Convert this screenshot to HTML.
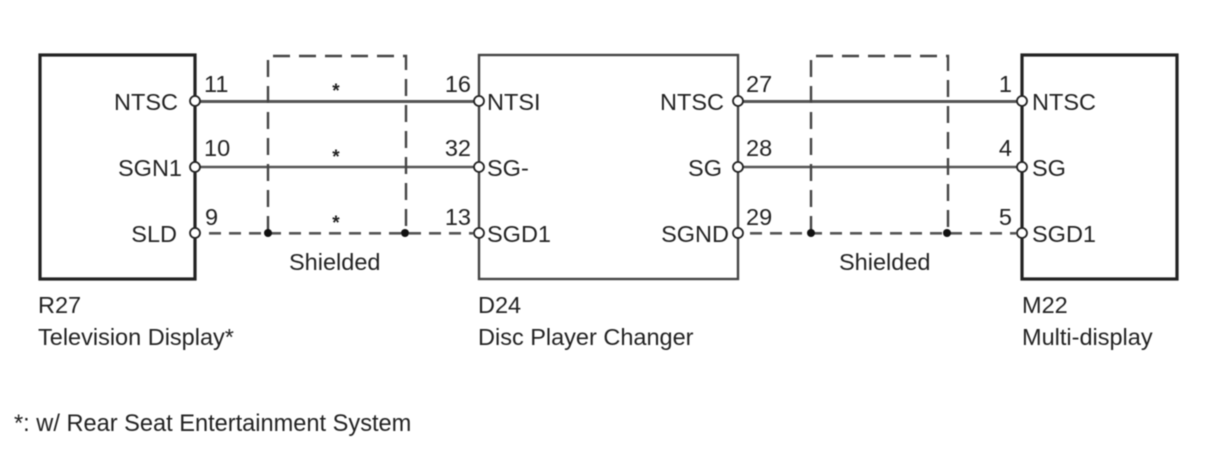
<!DOCTYPE html>
<html><head><meta charset="utf-8">
<style>
html,body{margin:0;padding:0;background:#fff;width:1210px;height:474px;overflow:hidden}
svg{display:block;filter:blur(0.45px)}
text{font-family:"Liberation Sans",sans-serif;font-size:23.5px;fill:#222}
text.f{font-size:23.6px}
text.s{font-size:19px;fill:#222;font-weight:bold}
</style></head><body>
<svg width="1210" height="474" viewBox="0 0 1210 474" xmlns="http://www.w3.org/2000/svg">
<g fill="none" stroke="#222">
<rect x="40" y="55" width="155" height="224" stroke-width="3.2"/>
<rect x="1022" y="55" width="155" height="224" stroke-width="3.2"/>
<rect x="479" y="55" width="259" height="224" stroke-width="2.4" stroke="#444"/>
</g>
<g fill="none" stroke="#555" stroke-width="3">
<path d="M195 101.5H479M738 101.5H1022"/>
</g>
<g fill="none" stroke="#555" stroke-width="2.4">
<path d="M195 167H479M738 167H1022"/>
</g>
<g fill="none" stroke="#444" stroke-width="2.4" stroke-dasharray="17 9">
<path d="M268 233V56H406V233"/>
<path d="M811 233V56H948V233"/>
</g>
<g fill="none" stroke="#555" stroke-width="2.6" stroke-dasharray="12 8">
<path d="M209 233.3H473"/>
<path d="M750 233.3H1016"/>
</g>
<g fill="#111">
<circle cx="268" cy="233" r="4"/><circle cx="405" cy="233" r="4"/>
<circle cx="811" cy="233" r="4"/><circle cx="947" cy="233" r="4"/>
</g>
<text class="s" x="336" y="97" text-anchor="middle">*</text>
<text class="s" x="336" y="163" text-anchor="middle">*</text>
<text class="s" x="336" y="229" text-anchor="middle">*</text>
<g fill="#fff" stroke="#222" stroke-width="1.8">
<circle cx="195" cy="101" r="5"/><circle cx="195" cy="167" r="5"/><circle cx="195" cy="233" r="5"/>
<circle cx="479" cy="101" r="5"/><circle cx="479" cy="167" r="5"/><circle cx="479" cy="233" r="5"/>
<circle cx="738" cy="101" r="5"/><circle cx="738" cy="167" r="5"/><circle cx="738" cy="233" r="5"/>
<circle cx="1022" cy="101" r="5"/><circle cx="1022" cy="167" r="5"/><circle cx="1022" cy="233" r="5"/>
</g>
<g text-anchor="end">
<text x="178" y="110">NTSC</text><text x="182" y="176">SGN1</text><text x="177" y="242">SLD</text>
<text x="724" y="110">NTSC</text><text x="722" y="176">SG</text><text x="729" y="242">SGND</text>
<text x="471" y="92">16</text><text x="471" y="156">32</text><text x="471" y="225">13</text>
<text x="1012" y="92">1</text><text x="1012" y="156">4</text><text x="1012" y="225">5</text>
</g>
<text x="204" y="92">11</text><text x="204" y="156">10</text><text x="205" y="225">9</text>
<text x="746" y="92">27</text><text x="746" y="156">28</text><text x="746" y="225">29</text>
<text x="487" y="110">NTSI</text><text x="487" y="176">SG-</text><text x="487" y="242">SGD1</text>
<text x="1032" y="110">NTSC</text><text x="1032" y="176">SG</text><text x="1032" y="242">SGD1</text>
<text x="289" y="270">Shielded</text><text x="839" y="270">Shielded</text>
<text x="38" y="313">R27</text><text x="38" y="345">Television Display*</text>
<text x="478" y="313">D24</text><text x="478" y="345">Disc Player Changer</text>
<text x="1022" y="313">M22</text><text x="1022" y="345">Multi-display</text>
<text class="f" x="14" y="431">*: w/ Rear Seat Entertainment System</text>
</svg>
</body></html>
